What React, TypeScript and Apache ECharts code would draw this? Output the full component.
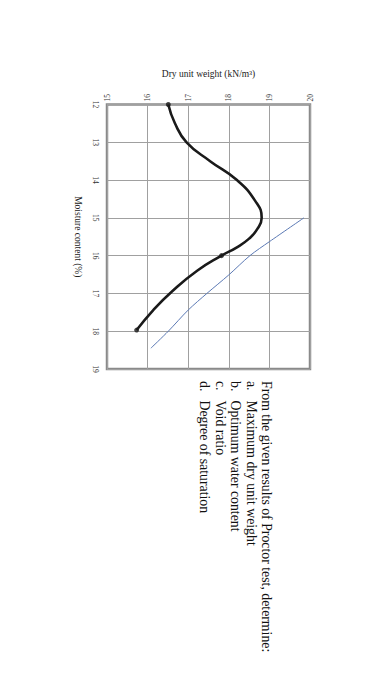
import React, { useEffect, useRef } from "react";
import * as echarts from "echarts";

// Compaction curve (dry unit weight kN/m3, moisture %)
const curveDryUnitWeight = [16.51, 16.67, 16.96, 17.54, 18.2, 18.65, 18.81, 18.7, 18.5, 18.2, 17.82, 17.22, 16.6, 16.14, 15.73];
const curveMoisture = [12.0, 12.49, 13.0, 13.5, 14.0, 14.55, 15.0, 15.3, 15.55, 15.78, 16.0, 16.4, 16.95, 17.44, 17.97];

// Measured points shown as dots
const pointDryUnitWeight = [16.51, 17.82, 15.73];
const pointMoisture = [12.0, 16.0, 17.97];

// Zero-air-voids line
const zavDryUnitWeight = [19.85, 19.0, 18.52, 18.0, 17.46, 17.0, 16.51, 16.08];
const zavMoisture = [15.0, 15.63, 16.0, 16.51, 17.0, 17.44, 18.0, 18.45];

const dryAxisName = "Dry unit weight (kN/m³)";
const moistureAxisName = "Moisture content (%)";

const questionLines = [
  { label: "", text: "From the given results of Proctor test, determine:" },
  { label: "a.", text: "Maximum dry unit weight" },
  { label: "b.", text: "Optimum water content" },
  { label: "c.", text: "Void ratio" },
  { label: "d.", text: "Degree of saturation" },
];

const SERIF = "'Liberation Serif', 'DejaVu Serif', serif";

export default function App() {
  const ref = useRef<HTMLDivElement>(null);

  useEffect(() => {
    if (!ref.current) return;
    const chart = echarts.init(ref.current, undefined, { renderer: "svg" });

    const pair = (xs: number[], ys: number[]) => xs.map((x, i) => [x, ys[i]]);

    const graphics: any[] = [];
    const firstX = 266.5;
    const lineStep = 15.4;
    const textStyle = { fontFamily: SERIF, fontSize: 13.8, fill: "#111", textAlign: "left", textVerticalAlign: "middle" };
    questionLines.forEach((ln, i) => {
      const x = firstX - i * lineStep;
      if (ln.label) {
        graphics.push({ type: "text", x, y: 381, rotation: -Math.PI / 2, style: { ...textStyle, text: ln.label } });
        graphics.push({ type: "text", x, y: 400.5, rotation: -Math.PI / 2, style: { ...textStyle, text: ln.text } });
      } else {
        graphics.push({ type: "text", x, y: 381, rotation: -Math.PI / 2, style: { ...textStyle, text: ln.text } });
      }
    });

    chart.setOption({
      animation: false,
      backgroundColor: "#ffffff",
      grid: {
        left: 107,
        top: 104.5,
        width: 203,
        height: 264.5,
        show: true,
        borderColor: "#8a8a8a",
        borderWidth: 2.5,
        containLabel: false,
      },
      xAxis: {
        type: "value",
        position: "top",
        min: 15,
        max: 20,
        interval: 1,
        name: dryAxisName,
        nameLocation: "middle",
        nameGap: 26,
        nameTextStyle: { fontFamily: SERIF, fontSize: 9.5, color: "#222" },
        axisLine: { show: false },
        axisTick: { show: false },
        axisLabel: { rotate: -90, fontFamily: SERIF, fontSize: 7.5, color: "#333", margin: 3 },
        splitLine: { show: true, lineStyle: { color: "#a0a0a0", width: 1 } },
      },
      yAxis: {
        type: "value",
        inverse: true,
        min: 12,
        max: 19,
        interval: 1,
        name: moistureAxisName,
        nameLocation: "middle",
        nameRotate: -90,
        nameGap: 17,
        nameTextStyle: { fontFamily: SERIF, fontSize: 9.5, color: "#222" },
        axisLine: { show: false },
        axisTick: { show: false },
        axisLabel: { rotate: -90, fontFamily: SERIF, fontSize: 7.5, color: "#333", margin: 8 },
        splitLine: { show: true, lineStyle: { color: "#a0a0a0", width: 1 } },
      },
      series: [
        {
          type: "line",
          data: pair(zavDryUnitWeight, zavMoisture),
          smooth: 0.3,
          showSymbol: false,
          lineStyle: { color: "#5b79b4", width: 1 },
          silent: true,
        },
        {
          type: "line",
          data: pair(curveDryUnitWeight, curveMoisture),
          smooth: 0.5,
          showSymbol: false,
          lineStyle: { color: "#1a1a1a", width: 2.6 },
          silent: true,
        },
        {
          type: "scatter",
          data: pair(pointDryUnitWeight, pointMoisture),
          symbolSize: 5,
          itemStyle: { color: "#1a1a1a" },
          silent: true,
        },
      ],
      graphic: graphics,
    });

    return () => chart.dispose();
  }, []);

  return (
    <div
      ref={ref}
      style={{ position: "fixed", left: 0, top: 0, width: 374, height: 700, background: "#fff" }}
    />
  );
}
